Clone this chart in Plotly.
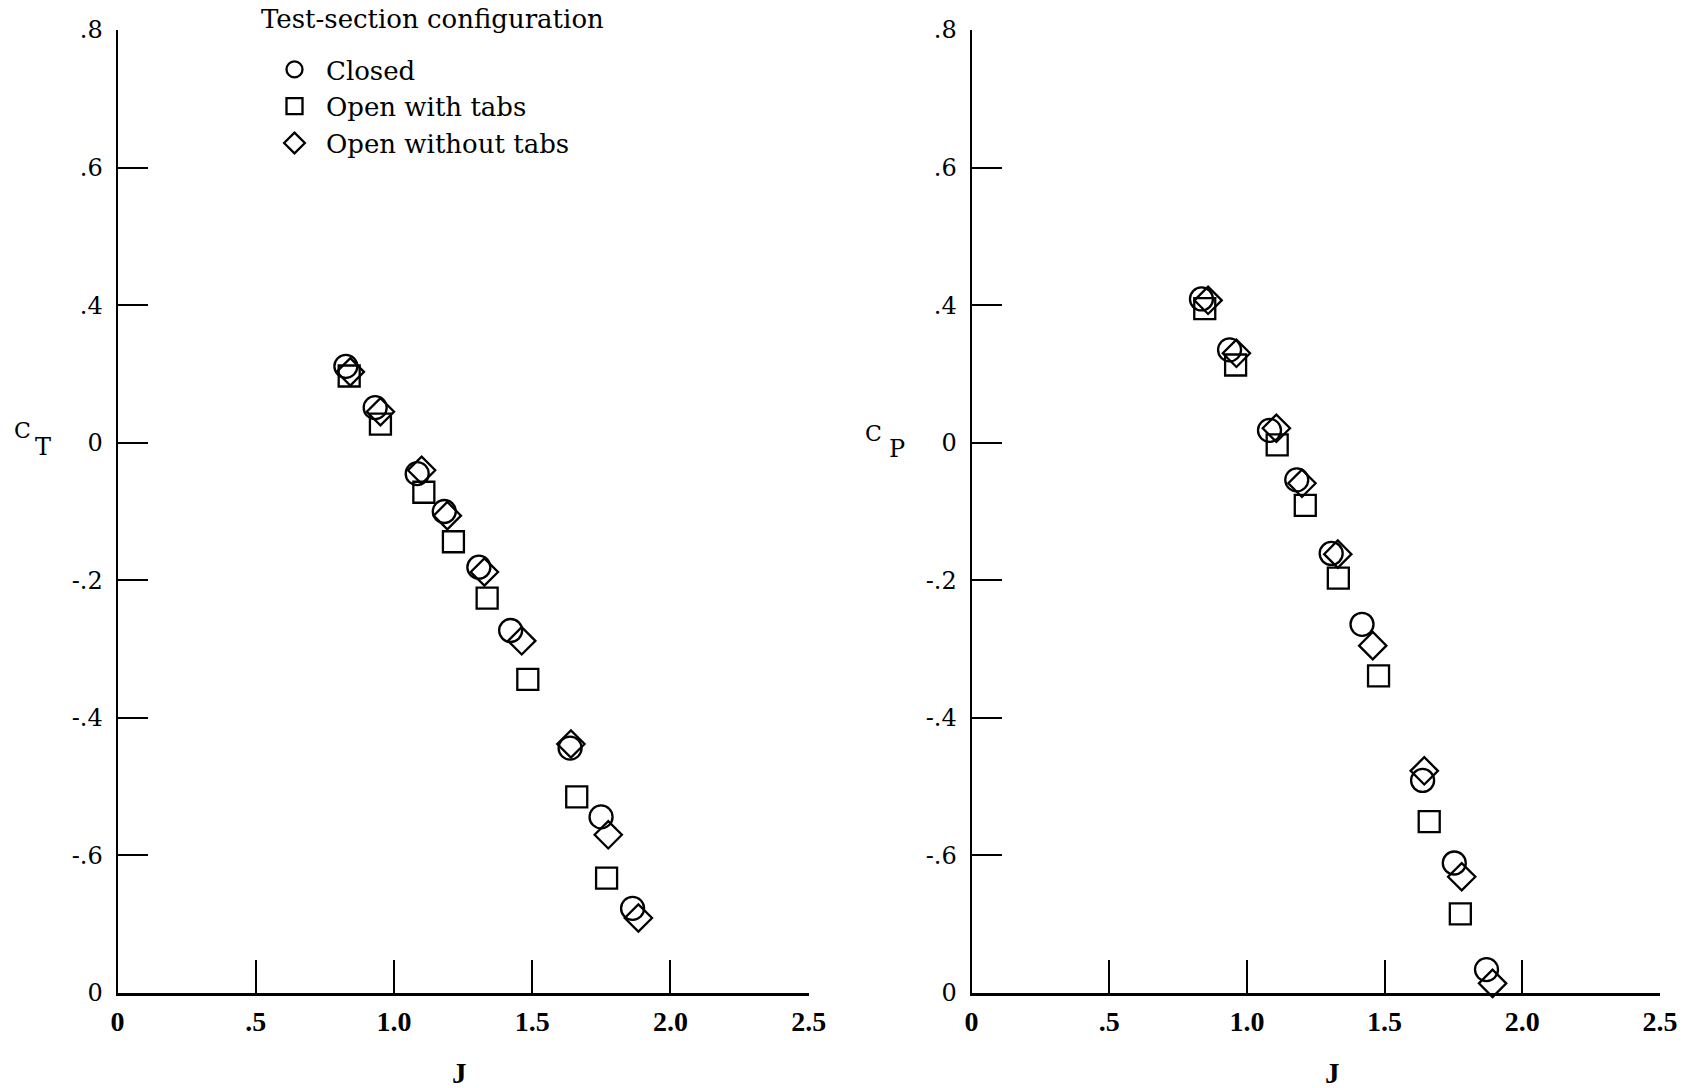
import plotly.graph_objects as go

# Advance ratio J and thrust coefficient C_T, per test-section configuration
ct_j_closed = [0.826, 0.932, 1.084, 1.182, 1.307, 1.422, 1.637, 1.749, 1.863]
ct_closed = [0.111, 0.051, -0.045, -0.100, -0.181, -0.273, -0.444, -0.544, -0.677]
ct_j_tabs = [0.838, 0.951, 1.108, 1.215, 1.337, 1.484, 1.661, 1.769]
ct_tabs = [0.097, 0.027, -0.072, -0.144, -0.226, -0.344, -0.515, -0.633]
ct_j_notabs = [0.842, 0.951, 1.100, 1.193, 1.327, 1.462, 1.640, 1.775, 1.884]
ct_notabs = [0.103, 0.045, -0.040, -0.106, -0.188, -0.288, -0.438, -0.570, -0.691]

# Advance ratio J and power coefficient C_P, per test-section configuration
cp_j_closed = [0.835, 0.937, 1.082, 1.181, 1.306, 1.418, 1.638, 1.753, 1.870]
cp_closed = [0.209, 0.135, 0.018, -0.054, -0.161, -0.264, -0.491, -0.611, -0.766]
cp_j_tabs = [0.847, 0.959, 1.110, 1.212, 1.332, 1.478, 1.662, 1.775]
cp_tabs = [0.195, 0.113, -0.003, -0.091, -0.197, -0.339, -0.551, -0.685]
cp_j_notabs = [0.859, 0.962, 1.107, 1.200, 1.330, 1.457, 1.644, 1.780, 1.892]
cp_notabs = [0.207, 0.130, 0.021, -0.059, -0.162, -0.295, -0.477, -0.631, -0.786]

series_names = ["Closed", "Open with tabs", "Open without tabs"]
legend_title = "Test-section configuration"

# Axis ticks
x_tickvals = [0, 0.5, 1.0, 1.5, 2.0, 2.5]
x_ticktext = ["0", ".5", "1.0", "1.5", "2.0", "2.5"]
y_tickvals = [0.6, 0.4, 0.2, 0.0, -0.2, -0.4, -0.6, -0.8]
y_ticktext = [".8", ".6", ".4", "0", "-.2", "-.4", "-.6", "0"]

W, H = 1695, 1088
SERIF = "DejaVu Serif"
BOLD_SERIF = "Liberation Serif"

symbols = ["circle-open", "square-open", "diamond-open"]
sizes = [23, 21, 21]

fig = go.Figure()

ct_sets = [(ct_j_closed, ct_closed), (ct_j_tabs, ct_tabs), (ct_j_notabs, ct_notabs)]
cp_sets = [(cp_j_closed, cp_closed), (cp_j_tabs, cp_tabs), (cp_j_notabs, cp_notabs)]

for i, (jv, cv) in enumerate(ct_sets):
    fig.add_trace(go.Scatter(
        x=jv, y=cv, mode="markers", name=series_names[i],
        legendgroup=series_names[i], showlegend=True, cliponaxis=False,
        marker=dict(symbol=symbols[i], size=sizes[i], color="black",
                    line=dict(width=2.3, color="black")),
        xaxis="x", yaxis="y"))

for i, (jv, cv) in enumerate(cp_sets):
    fig.add_trace(go.Scatter(
        x=jv, y=cv, mode="markers", name=series_names[i],
        legendgroup=series_names[i], showlegend=False, cliponaxis=False,
        marker=dict(symbol=symbols[i], size=sizes[i], color="black",
                    line=dict(width=2.3, color="black")),
        xaxis="x2", yaxis="y2"))

y_dom = [1 - 993 / H, 1 - 30 / H]


def xaxis_cfg(left, right, anchor):
    return dict(
        domain=[left / W, right / W], range=[0, 2.5], anchor=anchor,
        automargin=False,
        tickvals=x_tickvals, ticktext=x_ticktext,
        ticks="inside", ticklen=33, tickwidth=2, tickcolor="black",
        showline=True, linewidth=3, linecolor="black",
        showgrid=False, zeroline=False, ticklabelstandoff=1,
        tickfont=dict(family=BOLD_SERIF, size=28, color="black", weight="bold"),
    )


def yaxis_cfg(anchor):
    return dict(
        domain=y_dom, range=[-0.8, 0.6], anchor=anchor,
        automargin=False,
        tickvals=y_tickvals, ticktext=y_ticktext,
        ticks="inside", ticklen=30, tickwidth=2, tickcolor="black",
        showline=True, linewidth=2, linecolor="black",
        showgrid=False, zeroline=False, ticklabelstandoff=8,
        tickfont=dict(family=SERIF, size=24, color="black"),
    )


def label(text, x, y, family, size, anchor="center", bold=False):
    return dict(text=text, x=x / W, y=1 - y / H, xref="paper", yref="paper",
                xanchor=anchor, yanchor="middle", showarrow=False,
                font=dict(family=family, size=size, color="black",
                          weight="bold" if bold else "normal"))


fig.update_layout(
    width=W, height=H,
    margin=dict(l=0, r=0, t=0, b=0),
    paper_bgcolor="white", plot_bgcolor="white",
    xaxis=xaxis_cfg(117.5, 808.7, "y"),
    yaxis=yaxis_cfg("x"),
    xaxis2=xaxis_cfg(971.5, 1660, "y2"),
    yaxis2=yaxis_cfg("x2"),
    showlegend=True,
    legend=dict(
        x=263 / W, y=1 - 46 / H, xanchor="left", yanchor="top",
        bgcolor="rgba(0,0,0,0)", borderwidth=0,
        font=dict(family=SERIF, size=26, color="black"),
        itemsizing="trace", itemwidth=53, tracegroupgap=0,
    ),
    annotations=[
        label(legend_title, 259, 19, SERIF, 26, anchor="left"),
        # thrust coefficient axis title
        label("C", 22, 430, SERIF, 22),
        label("T", 43, 447, SERIF, 24),
        # power coefficient axis title
        label("C", 874, 433, SERIF, 22),
        label("P", 897, 449, SERIF, 24),
        # advance ratio axis titles
        label("J", 459, 1073, BOLD_SERIF, 29, bold=True),
        label("J", 1332, 1073, BOLD_SERIF, 29, bold=True),
    ],
)

fig.write_html("out.html")
